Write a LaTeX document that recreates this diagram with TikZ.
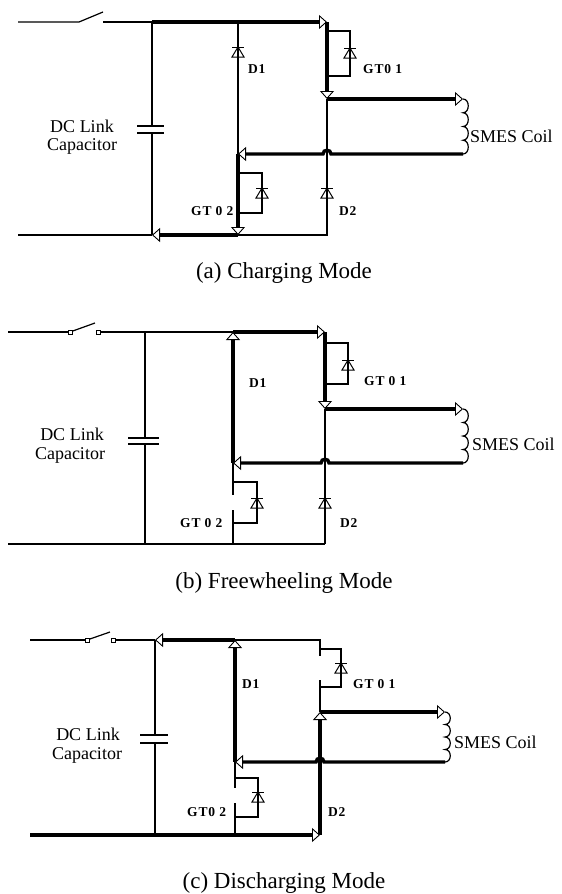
\documentclass[tikz,border=0pt]{standalone}
\usepackage{fontspec}
\setmainfont{Liberation Serif}
\newfontfamily\lblfont{Liberation Serif}[LetterSpace=6]
\usetikzlibrary{arrows.meta}
\tikzset{
  wire/.style={line width=1.2pt},
  power/.style={line width=3.4pt},
  flowarrow/.style={-{Triangle[length=8pt,width=14pt,fill=white,line width=0.9pt]}},
  devlbl/.style={font=\lblfont\bfseries\fontsize{13.5}{15}\selectfont, anchor=base west, inner sep=0pt},
  namelbl/.style={font=\fontsize{18}{20}\selectfont, anchor=base, inner sep=0pt},
  coillbl/.style={font=\fontsize{18}{20}\selectfont, anchor=base west, inner sep=0pt},
  capttext/.style={font=\fontsize{23}{26}\selectfont, anchor=base, inner sep=0pt},
  contact/.style={draw, line width=0.9pt, fill=white, inner sep=0pt, minimum size=4pt, shape=rectangle},
  diode/.pic={\draw[line width=1pt] (-6,-5) -- (6,-5); \draw[line width=1pt] (0,-5) -- (-6,5) -- (6,5) -- cycle;},
  coil/.pic={\draw[line width=1.2pt] (0,0) .. controls (7,0) and (7,13.75) .. (0,13.75)
      .. controls (7,13.75) and (7,27.5) .. (0,27.5)
      .. controls (7,27.5) and (7,41.25) .. (0,41.25)
      .. controls (7,41.25) and (7,55) .. (0,55);},
}
\begin{document}
\begin{tikzpicture}[x=1pt,y=-1pt]
\useasboundingbox (0,0) rectangle (562,894);

% ================= Panel (a) =================
\coordinate (a-in) at (18,22);
\coordinate (a-swA) at (79,22);
\coordinate (a-swB) at (103,12);
\coordinate (a-swC) at (103,22);
\coordinate (a-swD) at (110,22);
\coordinate (a-capT) at (152,22);
\coordinate (a-capB) at (152,235);
\coordinate (a-gnd) at (18,235);
\coordinate (a-d1T) at (238,22);
\coordinate (a-d1B) at (238,154);
\coordinate (a-g2B) at (238,235);
\coordinate (a-g1T) at (327,22);
\coordinate (a-g1B) at (327,99);
\coordinate (a-d2B) at (327,235);
\coordinate (a-coilT) at (463,99);
\coordinate (a-coilB) at (463,154);

\draw[wire] (a-in) -- (a-swA) -- (a-swB);
\draw[line width=2.4pt] (a-swC) -- (a-swD);
\draw[wire] (a-swD) -- (a-capT);
\draw[wire] (a-capT) -- (152,126) (137,126) -- (164,126) (137,133) -- (164,133) (152,133) -- (a-capB);
\draw[wire] (a-gnd) -- (a-capB);
\draw[wire] (a-d1T) -- (a-d1B);
\pic at (238,52) {diode};
\draw[wire] (a-g1B) -- (a-d2B) -- (a-g2B);
\pic at (327,193) {diode};
\draw[wire] (327,31) -| (350,76) -- (327,76);
\pic at (350,53) {diode};
\draw[wire] (238,173) -| (262,213) -- (238,213);
\pic at (262,193) {diode};
\pic at (a-coilT) {coil};

\draw[power,flowarrow] (a-capT) -- (a-g1T);
\draw[power,flowarrow] (a-g1T) -- (a-g1B);
\draw[power,flowarrow] (a-g1B) -- (a-coilT);
\draw[power,flowarrow] (a-g2B) -- (a-capB);
\draw[power,flowarrow] (a-d1B) -- (a-g2B);
\draw[power,flowarrow] (a-coilB) -- (331,154) .. controls (331,149) and (323,149) .. (323,154) -- (a-d1B);

\node[devlbl] (a-lD1) at (248,73) {D1};
\node[devlbl] (a-lG1) at (363,73) {GT0 1};
\node[devlbl] (a-lG2) at (191,215) {GT 0 2};
\node[devlbl] (a-lD2) at (339,215) {D2};
\node[namelbl] (a-lDC) at (82,132) {DC Link};
\node[namelbl] (a-lCap) at (82,150) {Capacitor};
\node[coillbl] (a-lCoil) at (470,142) {SMES Coil};
\node[capttext] (a-capt) at (284,278) {(a) Charging Mode};

% ================= Panel (b) =================
\coordinate (b-in) at (8,332);
\node[contact] (b-c1) at (70,332) {};
\coordinate (b-swB) at (95,323);
\node[contact] (b-c2) at (98,332) {};
\coordinate (b-capT) at (145,332);
\coordinate (b-capB) at (145,544);
\coordinate (b-gnd) at (8,544);
\coordinate (b-d1T) at (233,332);
\coordinate (b-d1B) at (233,463);
\coordinate (b-g2B) at (233,544);
\coordinate (b-g1T) at (325,332);
\coordinate (b-g1B) at (325,409);
\coordinate (b-d2B) at (325,544);
\coordinate (b-coilT) at (463,409);
\coordinate (b-coilB) at (463,463);

\draw[wire] (b-in) -- (b-c1);
\draw[wire] (b-c1) -- (b-swB);
\draw[wire] (b-c2) -- (b-capT) -- (b-d1T);
\draw[wire] (b-capT) -- (145,438) (128,438) -- (159,438) (128,444) -- (159,444) (145,444) -- (b-capB);
\draw[wire] (b-gnd) -- (b-capB) -- (b-g2B) -- (b-d2B);
\draw[wire] (325,343) -| (348,384) -- (325,384);
\pic at (348,365) {diode};
\draw[wire] (b-g1B) -- (b-d2B);
\pic at (325,503) {diode};
\draw[wire] (b-d1B) -- (233,495);
\draw[wire] (233,510) -- (b-g2B);
\draw[wire] (233,482) -| (257,523) -- (233,523);
\pic at (257,503) {diode};
\pic[yscale=0.982] at (b-coilT) {coil};

\draw[power,flowarrow] (b-d1T) -- (b-g1T);
\draw[power,flowarrow] (b-g1T) -- (b-g1B);
\draw[power,flowarrow] (b-g1B) -- (b-coilT);
\draw[power,flowarrow] (b-d1B) -- (b-d1T);
\draw[power,flowarrow] (b-coilB) -- (329,463) .. controls (329,458) and (321,458) .. (321,463) -- (b-d1B);

\node[devlbl] (b-lD1) at (249,387) {D1};
\node[devlbl] (b-lG1) at (364,385) {GT 0 1};
\node[devlbl] (b-lG2) at (180,527) {GT 0 2};
\node[devlbl] (b-lD2) at (340,527) {D2};
\node[namelbl] (b-lDC) at (72,440) {DC Link};
\node[namelbl] (b-lCap) at (70,459) {Capacitor};
\node[coillbl] (b-lCoil) at (472,450) {SMES Coil};
\node[capttext] (b-capt) at (284,588) {(b) Freewheeling Mode};

% ================= Panel (c) =================
\coordinate (c-in) at (30,640);
\node[contact] (c-c1) at (87,640) {};
\coordinate (c-swB) at (110,632);
\node[contact] (c-c2) at (113,640) {};
\coordinate (c-capT) at (155,640);
\coordinate (c-capB) at (155,835);
\coordinate (c-gnd) at (30,835);
\coordinate (c-d1T) at (235,640);
\coordinate (c-d1B) at (235,762);
\coordinate (c-g2B) at (235,835);
\coordinate (c-g1T) at (320,640);
\coordinate (c-g1B) at (320,712);
\coordinate (c-d2B) at (320,835);
\coordinate (c-coilT) at (445,712);
\coordinate (c-coilB) at (445,762);

\draw[wire] (c-in) -- (c-c1);
\draw[wire] (c-c1) -- (c-swB);
\draw[wire] (c-c2) -- (c-capT);
\draw[wire] (c-capT) -- (155,735) (140,735) -- (168,735) (140,743) -- (168,743) (155,743) -- (c-capB);
\draw[wire] (c-d1T) -- (c-g1T) -- (320,656);
\draw[wire] (320,680) -- (c-g1B);
\draw[wire] (320,649) -| (341,687) -- (320,687);
\pic at (341,668) {diode};
\draw[wire] (c-d1B) -- (235,788);
\draw[wire] (235,803) -- (c-g2B);
\draw[wire] (235,778) -| (258,817) -- (235,817);
\pic at (258,797) {diode};
\pic[yscale=0.909] at (c-coilT) {coil};

\draw[power,flowarrow] (c-d1T) -- (c-capT);
\draw[power,flowarrow] (c-d1B) -- (c-d1T);
\draw[power,flowarrow] (c-coilB) -- (324,762) .. controls (324,757) and (316,757) .. (316,762) -- (c-d1B);
\draw[power,flowarrow] (c-g1B) -- (c-coilT);
\draw[power,flowarrow] (c-d2B) -- (c-g1B);
\draw[power,flowarrow] (c-gnd) -- (c-d2B);

\node[devlbl] (c-lD1) at (242,688) {D1};
\node[devlbl] (c-lG1) at (353,688) {GT 0 1};
\node[devlbl] (c-lG2) at (187,816) {GT0 2};
\node[devlbl] (c-lD2) at (328,816) {D2};
\node[namelbl] (c-lDC) at (88,740) {DC Link};
\node[namelbl] (c-lCap) at (87,759) {Capacitor};
\node[coillbl] (c-lCoil) at (454,748) {SMES Coil};
\node[capttext] (c-capt) at (284,888) {(c) Discharging Mode};
\end{tikzpicture}
\end{document}
